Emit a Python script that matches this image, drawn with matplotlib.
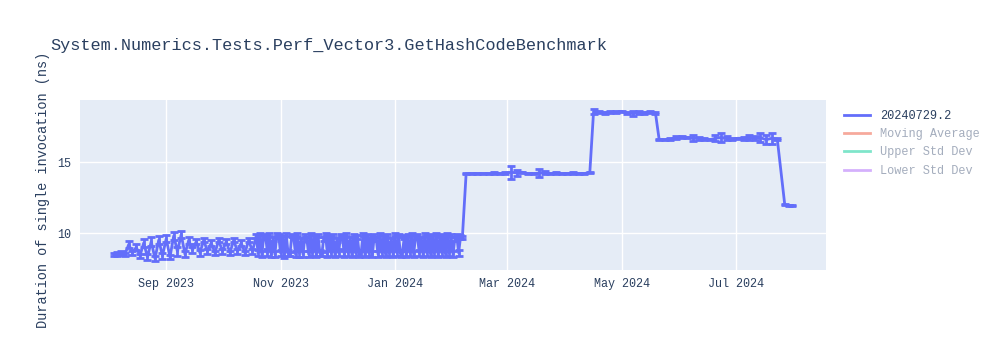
import numpy as np
import pandas as pd
import matplotlib
matplotlib.use("Agg")
import matplotlib.pyplot as plt
import matplotlib.dates as mdates
from matplotlib.lines import Line2D

# --- Données ---
TITLE = "System.Numerics.Tests.Perf_Vector3.GetHashCodeBenchmark"
Y_LABEL = "Duration of single invocation (ns)"
SERIES_NAME = "20240729.2"
LEGEND_ONLY = ["Moving Average", "Upper Std Dev", "Lower Std Dev"]

# phase 1a : 2023-08-04, un point tous les 2 jours
p1a_start = "2023-08-04"
p1a_vals = [8.5, 8.5, 8.6, 8.5, 9.2, 8.6, 9.0, 8.4,
            9.3, 8.3, 9.4, 8.2, 9.5, 8.4,
            9.6, 8.3, 9.8, 8.7, 9.9, 8.5, 9.5, 8.8,
            9.4, 8.6, 9.5, 8.7, 9.3, 8.6, 9.5, 8.7,
            9.4, 8.6, 9.5, 8.7, 9.3, 8.6, 9.5, 8.7]
p1a_errs = [0.1, 0.15, 0.15, 0.1, 0.25, 0.15, 0.2, 0.15,
            0.25, 0.2, 0.3, 0.15, 0.3, 0.2,
            0.25, 0.15, 0.3, 0.3, 0.25, 0.2, 0.25, 0.2,
            0.15, 0.2, 0.15, 0.2, 0.2, 0.15, 0.15, 0.2,
            0.15, 0.15, 0.15, 0.2, 0.2, 0.15, 0.15, 0.2]

# phase 1b : 2023-10-19, un point par jour
p1b_start = "2023-10-19"
p1b_vals = [9.8, 8.6, 9.9, 8.5, 9.7, 9.8, 8.6, 9.9, 8.5, 9.6,
            8.5, 9.9, 9.8, 8.6, 9.7, 8.5, 9.9, 8.6, 8.5, 9.8,
            9.7, 8.5, 9.9, 8.6, 9.5, 8.5, 9.8, 9.6, 8.5, 9.9,
            8.6, 9.7, 8.5, 9.8, 8.6, 8.5, 9.6, 9.9, 8.5, 9.7,
            8.6, 9.8, 8.5, 9.5, 8.6, 9.8, 9.7, 8.5, 9.9, 8.6,
            9.6, 8.5, 9.8, 8.6, 9.7, 8.5, 8.6, 9.9, 8.5, 9.8,
            8.6, 9.7, 8.5, 9.8, 9.6, 8.5, 9.9, 8.6, 9.7, 8.5,
            9.8, 8.6, 9.5, 8.5, 9.9, 8.6, 9.8, 8.5, 8.6, 9.7,
            8.5, 9.8, 8.6, 9.9, 8.5, 9.7, 9.8, 8.6, 9.6, 8.5,
            9.9, 8.6, 9.8, 8.5, 9.7, 8.6, 9.9, 8.5, 9.8, 8.6,
            9.7, 8.5, 9.9, 8.6, 9.8, 8.5, 9.6, 9.8, 8.6, 9.7,
            9.7]
p1b_errs = [0.15, 0.2, 0.1, 0.2, 0.15, 0.1, 0.25, 0.1, 0.2, 0.15,
            0.2, 0.1, 0.15, 0.2, 0.1, 0.25, 0.1, 0.2, 0.15, 0.1,
            0.15, 0.2, 0.1, 0.3, 0.15, 0.2, 0.1, 0.15, 0.2, 0.1,
            0.2, 0.15, 0.2, 0.1, 0.2, 0.15, 0.15, 0.1, 0.2, 0.15,
            0.2, 0.1, 0.2, 0.15, 0.25, 0.1, 0.15, 0.2, 0.1, 0.2,
            0.15, 0.2, 0.1, 0.2, 0.15, 0.2, 0.2, 0.1, 0.2, 0.15,
            0.2, 0.15, 0.2, 0.1, 0.15, 0.2, 0.1, 0.2, 0.15, 0.2,
            0.1, 0.2, 0.15, 0.2, 0.1, 0.2, 0.1, 0.2, 0.2, 0.15,
            0.2, 0.1, 0.2, 0.1, 0.2, 0.15, 0.1, 0.2, 0.15, 0.2,
            0.1, 0.2, 0.1, 0.2, 0.15, 0.2, 0.1, 0.2, 0.1, 0.2,
            0.15, 0.2, 0.1, 0.2, 0.1, 0.2, 0.15, 0.1, 0.2, 0.15,
            0.1]

# phase 2 : 2024-02-08, tous les 3 jours
p2_start = "2024-02-08"
p2_vals = [14.2, 14.2, 14.2, 14.2, 14.2, 14.25, 14.2, 14.25, 14.3, 14.25,
           14.3, 14.2, 14.2, 14.25, 14.3, 14.2, 14.25, 14.2, 14.2, 14.25,
           14.2, 14.2, 14.3]
p2_errs = [0.05, 0.05, 0.05, 0.05, 0.05, 0.05, 0.05, 0.1, 0.45, 0.2,
           0.05, 0.05, 0.05, 0.3, 0.1, 0.05, 0.05, 0.05, 0.05, 0.05,
           0.05, 0.05, 0.05]

# phase 3 : 2024-04-16
p3_start = "2024-04-16"
p3_vals = [18.6, 18.55, 18.5, 18.55, 18.55, 18.6, 18.5, 18.45, 18.5, 18.5,
           18.55, 18.5]
p3_errs = [0.15, 0.05, 0.05, 0.05, 0.05, 0.05, 0.05, 0.15, 0.1, 0.05,
           0.05, 0.05]

# phase 4 : 2024-05-21
p4_start = "2024-05-21"
p4_vals = [16.6, 16.6, 16.65, 16.75, 16.8, 16.75, 16.7, 16.7, 16.65, 16.6,
           16.7, 16.75, 16.7, 16.65, 16.7, 16.7, 16.75, 16.7, 16.75, 16.6,
           16.7, 16.65]
p4_errs = [0.05, 0.05, 0.05, 0.1, 0.05, 0.05, 0.2, 0.1, 0.05, 0.05,
           0.2, 0.3, 0.15, 0.1, 0.05, 0.1, 0.2, 0.15, 0.3, 0.3,
           0.4, 0.1]

# phase 5 : 2024-07-27
p5_start = "2024-07-27"
p5_vals = [12.0, 11.95, 11.95]
p5_errs = [0.05, 0.05, 0.05]

# --- Construction de la série ---
phases = [(p1a_start, "2D", p1a_vals, p1a_errs),
          (p1b_start, "1D", p1b_vals, p1b_errs),
          (p2_start, "3D", p2_vals, p2_errs),
          (p3_start, "3D", p3_vals, p3_errs),
          (p4_start, "3D", p4_vals, p4_errs),
          (p5_start, "2D", p5_vals, p5_errs)]
dates, vals, errs = [], [], []
for start, step, v, e in phases:
    dates.extend(pd.date_range(start, periods=len(v), freq=step))
    vals.extend(v)
    errs.extend(e)

BLUE = "#636efa"
TEXT = "#2a3f5f"
plt.rcParams["font.family"] = ["Liberation Mono", "DejaVu Sans Mono"]

fig = plt.figure(figsize=(10, 3.5), dpi=100)
ax = fig.add_axes([0.08, 0.229, 0.746, 0.485])
ax.set_facecolor("#e5ecf6")

ax.errorbar(dates, vals, yerr=errs, color=BLUE, linewidth=2, elinewidth=2,
            capsize=3, capthick=2, zorder=3)

ax.set_ylim(7.4, 19.4)
ax.set_yticks([10, 15])
ax.set_xlim(pd.Timestamp("2023-07-17"), pd.Timestamp("2024-08-18"))
ax.xaxis.set_major_locator(mdates.MonthLocator(bymonth=[1, 3, 5, 7, 9, 11]))
ax.xaxis.set_major_formatter(mdates.DateFormatter("%b %Y"))
ax.grid(True, color="white", linewidth=1)
ax.set_axisbelow(True)
for s in ax.spines.values():
    s.set_visible(False)
ax.tick_params(length=0, labelsize=8.5, colors=TEXT, pad=6)

fig.text(0.05, 0.87, TITLE, fontsize=12.2, color=TEXT, ha="left", va="center")
fig.text(0.043, 0.457, Y_LABEL, fontsize=9.8, color=TEXT, rotation=90,
         ha="center", va="center")

handles = [Line2D([], [], color=BLUE, linewidth=2)]
labels = [SERIES_NAME]
for c in ["#EF553B", "#00cc96", "#ab63fa"]:
    handles.append(Line2D([], [], color=c, linewidth=2, alpha=0.5))
labels += LEGEND_ONLY
leg = ax.legend(handles, labels, loc="upper left", bbox_to_anchor=(1.01, 1.006),
                frameon=False, fontsize=8.6, handlelength=2.2, labelspacing=0.53)
for i, t in enumerate(leg.get_texts()):
    t.set_color(TEXT if i == 0 else "#a4adbd")

fig.savefig("out.png", dpi=100)
